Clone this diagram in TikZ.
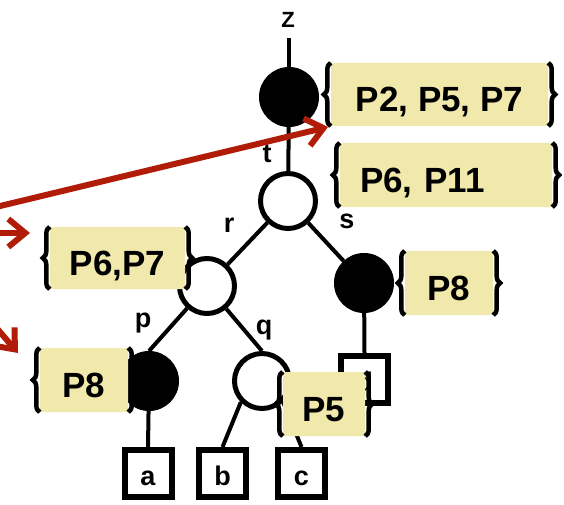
\documentclass[tikz,border=0pt]{standalone}
\usepackage{fontspec}
\setmainfont{Liberation Sans}
\usetikzlibrary{arrows.meta,decorations.pathreplacing}
\definecolor{tagfill}{RGB}{241,233,171}
\definecolor{arrowred}{RGB}{176,28,8}
\pgfdeclarelayer{edges}
\pgfsetlayers{edges,main}
\begin{document}
\begin{tikzpicture}[x=1pt,y=-1pt,
  edge/.style={line width=4pt},
  hollow/.style={circle,draw,fill=white,line width=5pt,minimum size=55pt,inner sep=0pt},
  filled/.style={circle,draw,fill=black,line width=1pt,minimum size=59pt,inner sep=0pt},
  leafbox/.style={rectangle,draw,fill=white,line width=6pt,minimum size=47pt,inner sep=0pt,
    font=\fontsize{27}{30}\selectfont\bfseries,text height=23pt,text depth=0pt},
  lbl/.style={anchor=base,inner sep=0pt,font=\fontsize{27}{30}\selectfont\bfseries},
  tag/.style={fill=tagfill,rounded corners=3pt,inner sep=0pt,
    font=\fontsize{35}{40}\selectfont\bfseries,text height=35pt,text depth=0pt},
  brc/.style={decorate,decoration={brace,amplitude=7pt},line width=4.5pt},
  redarrow/.style={draw=arrowred,line width=6pt,
    -{Straight Barb[length=17pt,width=28pt]}}
]
\useasboundingbox (0,0) rectangle (564,505);

% tree nodes
\node[filled] (root) at (289,97) {};
\node[hollow] (t) at (288,201) {};
\node[hollow] (r) at (207,286) {};
\node[filled] (s) at (364,283) {};
\node[filled] (p) at (149,381) {};
\node[hollow] (q) at (262,381) {};
\node[leafbox] (a) at (148,473.5) {a};
\node[leafbox] (b) at (222.5,473.5) {b};
\node[leafbox] (c) at (301.5,473.5) {c};
\node[leafbox] (d) at (364.5,379.5) {d};

% edge labels
\node[lbl,font=\fontsize{22}{26}\selectfont\bfseries] (zl) at (288,28) {Z};
\node[lbl] (tl) at (267,163) {t};
\node[lbl] (rl) at (229,232) {r};
\node[lbl] (sl) at (347,228) {s};
\node[lbl] (pl) at (143,327) {p};
\node[lbl] (ql) at (264,334) {q};
\coordinate (ztop) at (289,38);

% edges, kept behind the nodes
\begin{pgfonlayer}{edges}
\draw[edge] (ztop) -- (root.north);
\draw[edge] (root) -- (t);
\draw[edge] (t) -- (r);
\draw[edge] (t) -- (s);
\draw[edge] (r) -- (p.north);
\draw[edge] (r) -- (q.north);
\draw[edge] (p) -- (a.north);
\draw[edge] (q.south west) -- (b.north);
\draw[edge] (q.south east) -- (c.north);
\draw[edge] (s) -- (d.north);
\end{pgfonlayer}

% label sets
\node[tag,minimum width=217pt,minimum height=63pt] (L1) at (439.5,94.5) {P2, P5, P7};
\node[tag,minimum height=64pt,text width=172pt,align=left,inner xsep=20pt] (L2) at (446,175) {P6, P11};
\node[tag,minimum width=135pt,minimum height=62pt] (L3) at (117.5,258) {P6,P7};
\node[tag,minimum width=88pt,minimum height=64pt] (L4) at (449,283) {P8};
\node[tag,minimum width=88pt,minimum height=64pt] (L5) at (84,380) {P8};
\node[tag,minimum width=82pt,minimum height=64pt] (L6) at (324,404) {P5};
\foreach \n in {L1,L2,L3,L4,L5,L6}{
  \draw[brc] (\n.south west) -- (\n.north west);
  \draw[brc] (\n.north east) -- (\n.south east);
}

% red arrows
\coordinate (a1s) at (-4,207);
\coordinate (a1e) at (328,127);
\coordinate (a2s) at (-6,233);
\coordinate (a2e) at (30,233);
\coordinate (a3s) at (-12,318);
\coordinate (a3e) at (18,353);
\draw[redarrow] (a1s) -- (a1e);
\draw[redarrow] (a2s) -- (a2e);
\draw[redarrow] (a3s) -- (a3e);
\end{tikzpicture}
\end{document}
